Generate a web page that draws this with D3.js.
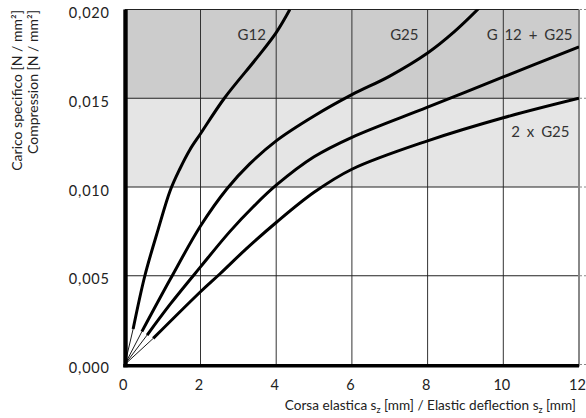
<!DOCTYPE html>
<html><head><meta charset="utf-8">
<script src="https://cdn.jsdelivr.net/npm/d3@7"></script>
<style>
html,body{margin:0;padding:0;background:#fff;}
svg text{font-family:Lato,"Open Sans",sans-serif;fill:#222;}
</style></head>
<body><svg id="c" width="586" height="418"></svg>
<script>
// ---- data ----
const xTicks = [0, 2, 4, 6, 8, 10, 12];
const yTicks = [0, 0.005, 0.010, 0.015, 0.020];
const yTickLabels = ["0,000", "0,005", "0,010", "0,015", "0,020"];
const bands = [[0.010, 0.015, "#e5e5e5"], [0.015, 0.020, "#cccccc"]];

const seriesNames = ["G12", "G25", "G 12 + G25", "2 x G25"];
const g12 = [[0,0],[0.22,0.0020],[0.53,0.0050],[0.88,0.0076],[1.2,0.0098],[1.45,0.0110],[1.72,0.0121],[2,0.0130],[2.63,0.0150],[3.5,0.0173],[4,0.0187],[4.36,0.0200]];
const g25 = [[0,0],[0.45,0.00185],[1.2,0.0048],[2,0.0078],[2.7,0.0099],[3.3,0.0113],[4,0.0126],[5,0.0140],[6,0.0152],[7,0.01625],[8,0.01755],[8.7,0.01874],[9.37,0.0201]];
const g12g25 = [[0,0],[0.59,0.00166],[1.2,0.0034],[2,0.0055],[2.78,0.0075],[3.4,0.0089],[4,0.0101],[5,0.0117],[6,0.0128],[8,0.0145],[10,0.0162],[12,0.0179]];
const g25x2 = [[0,0],[0.75,0.00147],[2,0.0041],[2.51,0.0051],[3.2,0.0065],[4,0.0080],[5,0.0097],[6,0.0110],[8,0.0126],[10,0.0139],[12,0.0150]];
const seriesData = [g12, g25, g12g25, g25x2];
// label anchors in data units (right end x, baseline y)
const labelPos = [[3.73, 0.0183], [7.76, 0.0183], [11.83, 0.0183], [11.75, 0.0128]];

// ---- chart ----
const svg = d3.select("#c");
const x = d3.scaleLinear().domain([0, 12]).range([124.8, 579]);
const y = d3.scaleLinear().domain([0, 0.020]).range([364.5, 9.5]);

// bands
svg.selectAll("rect.band").data(bands).join("rect")
  .attr("x", x(0)).attr("width", x(12) - x(0))
  .attr("y", d => y(d[1])).attr("height", d => y(d[0]) - y(d[1]))
  .attr("fill", d => d[2]);

// grid
svg.selectAll("line.vg").data(xTicks.slice(1, -1)).join("line")
  .attr("x1", d => x(d)).attr("x2", d => x(d)).attr("y1", y(0.02)).attr("y2", y(0))
  .attr("stroke", "#333").attr("stroke-width", 1);
svg.selectAll("line.hg").data(yTicks).join("line")
  .attr("x1", x(0)).attr("x2", x(12)).attr("y1", d => y(d)).attr("y2", d => y(d))
  .attr("stroke", "#222").attr("stroke-width", 1);
// little dotted ticks right of the frame
svg.selectAll("line.rt").data(yTicks).join("line")
  .attr("x1", x(12) + 1).attr("x2", x(12) + 8).attr("y1", d => y(d)).attr("y2", d => y(d))
  .attr("stroke", "#888").attr("stroke-width", 1).attr("stroke-dasharray", "2,2");
// right border
svg.append("line").attr("x1", x(12)).attr("x2", x(12)).attr("y1", y(0.02)).attr("y2", y(0) + 2)
  .attr("stroke", "#888").attr("stroke-width", 2);

// curves
svg.append("clipPath").attr("id", "clip").append("rect")
  .attr("x", x(0)).attr("y", y(0.02)).attr("width", x(12) - x(0)).attr("height", y(0) - y(0.02));
const line = d3.line().x(d => x(d[0])).y(d => y(d[1])).curve(d3.curveCatmullRom.alpha(0.5));
const cg = svg.append("g").attr("clip-path", "url(#clip)");
seriesData.forEach(s => {
  cg.append("path").attr("d", d3.line().x(d => x(d[0])).y(d => y(d[1]))(s.slice(0, 2))).attr("fill", "none")
    .attr("stroke", "#000").attr("stroke-width", 0.9);
  cg.append("path").attr("d", line(s.slice(1))).attr("fill", "none")
    .attr("stroke", "#000").attr("stroke-width", 3);
});

// axes frame lines
svg.append("line").attr("x1", x(0) + 0.7).attr("x2", x(0) + 0.7).attr("y1", y(0.02)).attr("y2", y(0) + 2.8)
  .attr("stroke", "#000").attr("stroke-width", 4.4);
svg.append("line").attr("x1", x(0) - 1.5).attr("x2", x(12)).attr("y1", y(0) + 1.2).attr("y2", y(0) + 1.2)
  .attr("stroke", "#000").attr("stroke-width", 3.6);

// series labels
svg.selectAll("text.sl").data(seriesNames).join("text")
  .attr("x", (d, i) => x(labelPos[i][0])).attr("y", (d, i) => y(labelPos[i][1]))
  .attr("text-anchor", "end")
  .attr("font-size", 15).attr("word-spacing", 3).style("fill", "#333").text(d => d);

// tick labels
const xAxis = d3.axisBottom(x).tickValues(xTicks).tickSize(0).tickPadding(0).tickFormat(d3.format("d"));
const gx = svg.append("g").attr("transform", `translate(-2,${y(0) + 25.5})`).call(xAxis);
gx.select(".domain").remove();
gx.selectAll("text").attr("font-size", 14.5).attr("dy", 0).attr("fill", "#222")
  .style("font-family", "Lato,'Open Sans',sans-serif");

const yAxis = d3.axisLeft(y).tickValues(yTicks).tickSize(0).tickPadding(0)
  .tickFormat((d, i) => yTickLabels[i]);
const gy = svg.append("g").attr("transform", `translate(${x(0) - 15},3.5)`).call(yAxis);
gy.select(".domain").remove();
gy.selectAll("text").attr("font-size", 14.5).attr("letter-spacing", 0.8).attr("fill", "#222")
  .style("font-family", "Lato,'Open Sans',sans-serif");

// axis titles
const xt = svg.append("text").attr("x", 576).attr("y", 410).attr("text-anchor", "end").attr("font-size", 13.6);
xt.append("tspan").text("Corsa elastica s");
xt.append("tspan").attr("font-size", 9).attr("dy", 3).text("z");
xt.append("tspan").attr("dy", -3).text(" [mm] / Elastic deflection s");
xt.append("tspan").attr("font-size", 9).attr("dy", 3).text("z");
xt.append("tspan").attr("dy", -3).text(" [mm]");

svg.append("text").attr("transform", "translate(22,10) rotate(-90)").attr("text-anchor", "end")
  .attr("font-size", 14).text("Carico specifico [N / mm²]");
svg.append("text").attr("transform", "translate(38,10) rotate(-90)").attr("text-anchor", "end")
  .attr("font-size", 14).text("Compression [N / mm²]");
</script></body></html>
